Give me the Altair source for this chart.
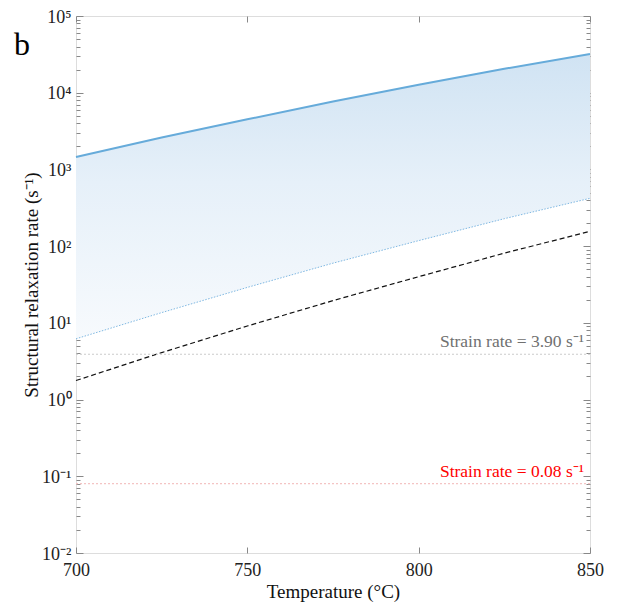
import json
import altair as alt
import pandas as pd

# ---- data ----
temps = [700, 725, 750, 775, 800, 825, 850]
upper_rate = [1450, 2600, 4500, 7700, 12700, 20500, 32000]
lower_rate = [6.2, 13.6, 29, 60, 118, 228, 420]
dashed_rate = [1.77, 4.1, 9.1, 19.5, 40, 81, 156]

strain_rates = [3.90, 0.08]
strain_labels = ["Strain rate = 3.90 s⁻¹", "Strain rate = 0.08 s⁻¹"]
strain_text_colors = ["#707070", "#ff0000"]
strain_line_colors = ["#cccccc", "#f4c4c4"]

x_ticks = [700, 750, 800, 850]
y_major_labels = ["10⁻²", "10⁻¹", "10⁰", "10¹", "10²", "10³", "10⁴", "10⁵"]
y_ticks = [round(m * 10.0 ** k, 6) for k in range(-2, 5) for m in range(1, 10)] + [100000]

df = pd.DataFrame({"T": temps, "upper": upper_rate, "lower": lower_rate, "dashed": dashed_rate})
sr = pd.DataFrame({
    "rate": strain_rates,
    "label": strain_labels,
    "tcolor": strain_text_colors,
    "lcolor": strain_line_colors,
    "x0": [700, 700],
    "x1": [850, 850],
})

FONT = "Liberation Serif"
xscale = alt.Scale(domain=[700, 850], nice=False, zero=False)
yscale = alt.Scale(type="log", domain=[0.01, 100000], nice=False)

major_test = "abs(log(datum.value)/LN10 - round(log(datum.value)/LN10)) < 0.001"
label_expr = (
    f"{major_test} ? {json.dumps(y_major_labels, ensure_ascii=False)}"
    f"[round(log(datum.value)/LN10)+2] : ''"
)

common_axis = dict(
    domain=False,
    tickColor="#888888",
    tickWidth=1,
    labelFont=FONT,
    labelFontSize=18,
    labelColor="#222222",
    titleFont=FONT,
    titleFontSize=19,
    titleFontWeight="normal",
    titleColor="#111111",
    grid=False,
    labelOverlap=False,
)

x_axis = alt.Axis(
    values=x_ticks, format="d", title="Temperature (°C)", labelFlush=False,
    tickSize={"condition": {"test": "true", "value": -6}, "value": -6},
    labelPadding=14, titlePadding=3, **common_axis,
)
y_axis = alt.Axis(
    values=y_ticks, labelExpr=label_expr, title="Structural relaxation rate (s⁻¹)",
    tickSize={"condition": {"test": major_test, "value": -7}, "value": -4},
    labelPadding=12, titlePadding=0, labelBaseline="middle", labelOffset=1, **common_axis,
)
x_axis_top = alt.Axis(
    values=x_ticks, orient="top", labels=False, title=None,
    tickSize={"condition": {"test": "true", "value": -6}, "value": -6},
    **common_axis,
)
y_axis_right = alt.Axis(
    values=y_ticks, orient="right", labels=False, title=None,
    tickSize={"condition": {"test": major_test, "value": -7}, "value": -4},
    **common_axis,
)

band = alt.Chart(df).mark_area(
    color=alt.Gradient(
        gradient="linear",
        stops=[
            alt.GradientStop(color="#d0e3f3", offset=0),
            alt.GradientStop(color="#e6f0f9", offset=0.45),
            alt.GradientStop(color="#f7fafd", offset=1),
        ],
        x1=0, x2=0, y1=0, y2=1,
    )
).encode(
    x=alt.X("T:Q", scale=xscale, axis=x_axis),
    y=alt.Y("upper:Q", scale=yscale, axis=y_axis),
    y2="lower:Q",
)

upper_line = alt.Chart(df).mark_line(color="#66abda", strokeWidth=2).encode(
    x=alt.X("T:Q", scale=xscale, axis=None),
    y=alt.Y("upper:Q", scale=yscale, axis=None),
)

lower_line = alt.Chart(df).mark_line(color="#7fb8e2", strokeWidth=1, strokeDash=[1.5, 1.5]).encode(
    x=alt.X("T:Q", scale=xscale, axis=None),
    y=alt.Y("lower:Q", scale=yscale, axis=None),
)

dashed_line = alt.Chart(df).mark_line(color="#111111", strokeWidth=1.2, strokeDash=[5, 3]).encode(
    x=alt.X("T:Q", scale=xscale, axis=None),
    y=alt.Y("dashed:Q", scale=yscale, axis=None),
)

strain_lines = alt.Chart(sr).mark_rule(strokeWidth=1.2, strokeDash=[2, 2]).encode(
    x=alt.X("x0:Q", scale=xscale, axis=None),
    x2="x1:Q",
    y=alt.Y("rate:Q", scale=yscale, axis=None),
    color=alt.Color("lcolor:N", scale=None),
)

strain_text = alt.Chart(sr).mark_text(
    align="right", baseline="bottom", dx=-6, dy=-3, font=FONT, fontSize=17.5
).encode(
    x=alt.X("x1:Q", scale=xscale, axis=None),
    y=alt.Y("rate:Q", scale=yscale, axis=None),
    text="label:N",
    color=alt.Color("tcolor:N", scale=None),
)

frame_axes = alt.Chart(df).mark_line(opacity=0).encode(
    x=alt.X("T:Q", scale=xscale, axis=x_axis_top),
    y=alt.Y("upper:Q", scale=yscale, axis=y_axis_right),
)

panel_letter = alt.Chart(pd.DataFrame({"t": ["b"]})).mark_text(
    font=FONT, fontSize=32, align="left", baseline="alphabetic"
).encode(
    x=alt.value(-62), y=alt.value(39), text="t:N"
)

chart = alt.layer(
    band, upper_line, lower_line, dashed_line, strain_lines, strain_text, panel_letter, frame_axes
).resolve_axis(x="independent", y="independent").properties(
    width=514,
    height=537,
    autosize=alt.AutoSizeParams(type="none"),
    padding={"left": 68, "top": 8, "right": 21, "bottom": 52},
).configure_view(stroke="#888888", strokeWidth=1).configure(background="white")

chart.save("out.html", embed_options={"renderer": "svg", "actions": False})
